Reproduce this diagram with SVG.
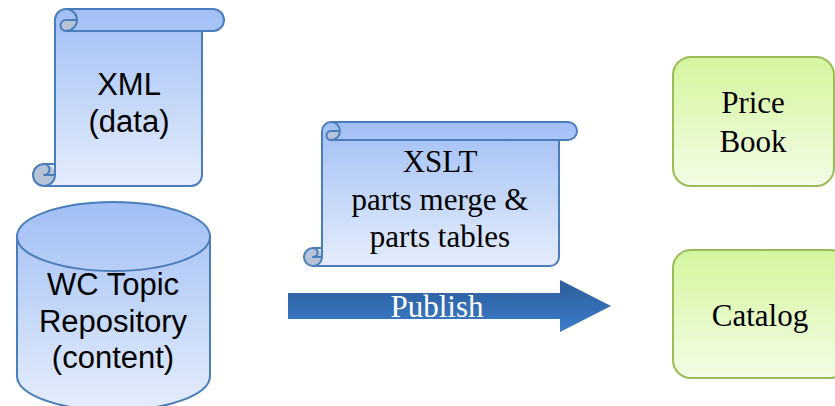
<svg xmlns="http://www.w3.org/2000/svg" width="835" height="406" viewBox="0 0 835 406">
<defs>
<linearGradient id="gBlue" x1="0" y1="0" x2="0" y2="1">
<stop offset="0" stop-color="#a1bff5"/>
<stop offset="1" stop-color="#e5edfc"/>
</linearGradient>
<linearGradient id="gCyl" gradientUnits="userSpaceOnUse" x1="0" y1="202" x2="0" y2="410">
<stop offset="0" stop-color="#a1bff5"/>
<stop offset="1" stop-color="#e5edfc"/>
</linearGradient>
<linearGradient id="gGreen" x1="0" y1="0" x2="0" y2="1">
<stop offset="0" stop-color="#d4f59e"/>
<stop offset="1" stop-color="#f3fde6"/>
</linearGradient>
<linearGradient id="gArrow" x1="0" y1="0" x2="0" y2="1">
<stop offset="0" stop-color="#2c5c99"/>
<stop offset="1" stop-color="#3c7dcc"/>
</linearGradient>
</defs>
<style>
.outl{stroke:#4a7ebb;stroke-width:2;stroke-linejoin:round;fill:none}
.dark{fill:#b7c3d8;stroke:none}
.body{fill:url(#gBlue);stroke:none}
.box{fill:url(#gGreen);stroke:#9bbb59;stroke-width:2}
.sans{font-family:"Liberation Sans",Arial,sans-serif;font-size:31px;fill:#000;text-anchor:middle}
.serif{font-family:"Liberation Serif","Times New Roman",serif;font-size:31px;fill:#000;text-anchor:middle}
</style>

<g id="xml-data">
<path class="body" d="M44,186 A11,11 0 0 1 44,164 L55,164 L55,20 A11,11 0 0 1 66,9 L213,9 A11,11 0 0 1 213,31 L202,31 L202,175 A11,11 0 0 1 191,186 Z"/>
<path class="dark" d="M77,20 A11,11 0 0 1 66,31 A5.5,5.5 0 0 1 66,20 Z"/>
<circle class="dark" cx="44" cy="175" r="11"/>
<path class="outl" d="M55,164 L55,20 A11,11 0 0 1 66,9 L213,9 A11,11 0 0 1 213,31 L202,31 L202,175 A11,11 0 0 1 191,186 L44,186 A11,11 0 0 1 44,164 Z"/>
<path class="outl" d="M66,9 A11,11 0 0 1 66,31 A5.5,5.5 0 0 1 66,20 L77,20 M202,31 L66,31 M44,164 A5.5,5.5 0 0 1 44,175 L55,175 M44,186 A11,11 0 0 0 55,175 L55,164"/>
<text class="sans" x="129" y="95">XML</text>
<text class="sans" x="129" y="132">(data)</text>
</g>

<g id="repository">
<path d="M17,236.5 L17,376 A96.5,34.5 0 0 0 210,376 L210,236.5 Z" fill="url(#gCyl)" stroke="#4a7ebb" stroke-width="2"/>
<ellipse cx="113.5" cy="236.5" rx="96.5" ry="34.5" fill="url(#gCyl)" stroke="#4a7ebb" stroke-width="2"/>
<text class="sans" x="113" y="295">WC Topic</text>
<text class="sans" x="113" y="332">Repository</text>
<text class="sans" x="113" y="368">(content)</text>
</g>

<g id="xslt">
<path class="body" d="M313,266 A9,9 0 0 1 313,248 L322,248 L322,131 A9,9 0 0 1 331,122 L568,122 A9,9 0 0 1 568,140 L559,140 L559,257 A9,9 0 0 1 550,266 Z"/>
<path class="dark" d="M340,131 A9,9 0 0 1 331,140 A4.5,4.5 0 0 1 331,131 Z"/>
<circle class="dark" cx="313" cy="257" r="9"/>
<path class="outl" d="M322,248 L322,131 A9,9 0 0 1 331,122 L568,122 A9,9 0 0 1 568,140 L559,140 L559,257 A9,9 0 0 1 550,266 L313,266 A9,9 0 0 1 313,248 Z"/>
<path class="outl" d="M331,122 A9,9 0 0 1 331,140 A4.5,4.5 0 0 1 331,131 L340,131 M559,140 L331,140 M313,248 A4.5,4.5 0 0 1 313,257 L322,257 M313,266 A9,9 0 0 0 322,257 L322,248"/>
<text class="serif" x="440" y="172">XSLT</text>
<text class="serif" x="440" y="210">parts merge &amp;</text>
<text class="serif" x="440" y="247">parts tables</text>
</g>

<g id="connectors">
<g id="publish-arrow">
<polygon points="288,293 560,293 560,280 611,306 560,332 560,319 288,319" fill="url(#gArrow)"/>
<text class="serif" x="437" y="317" style="fill:#ffffff">Publish</text>
</g>
</g>

<g id="price-book">
<rect class="box" x="673" y="57" width="161" height="129" rx="18" ry="18"/>
<text class="serif" x="753" y="113">Price</text>
<text class="serif" x="753" y="152">Book</text>
</g>

<g id="catalog">
<rect class="box" x="673" y="250" width="175" height="128" rx="18" ry="18"/>
<text class="serif" x="760" y="326">Catalog</text>
</g>
</svg>
